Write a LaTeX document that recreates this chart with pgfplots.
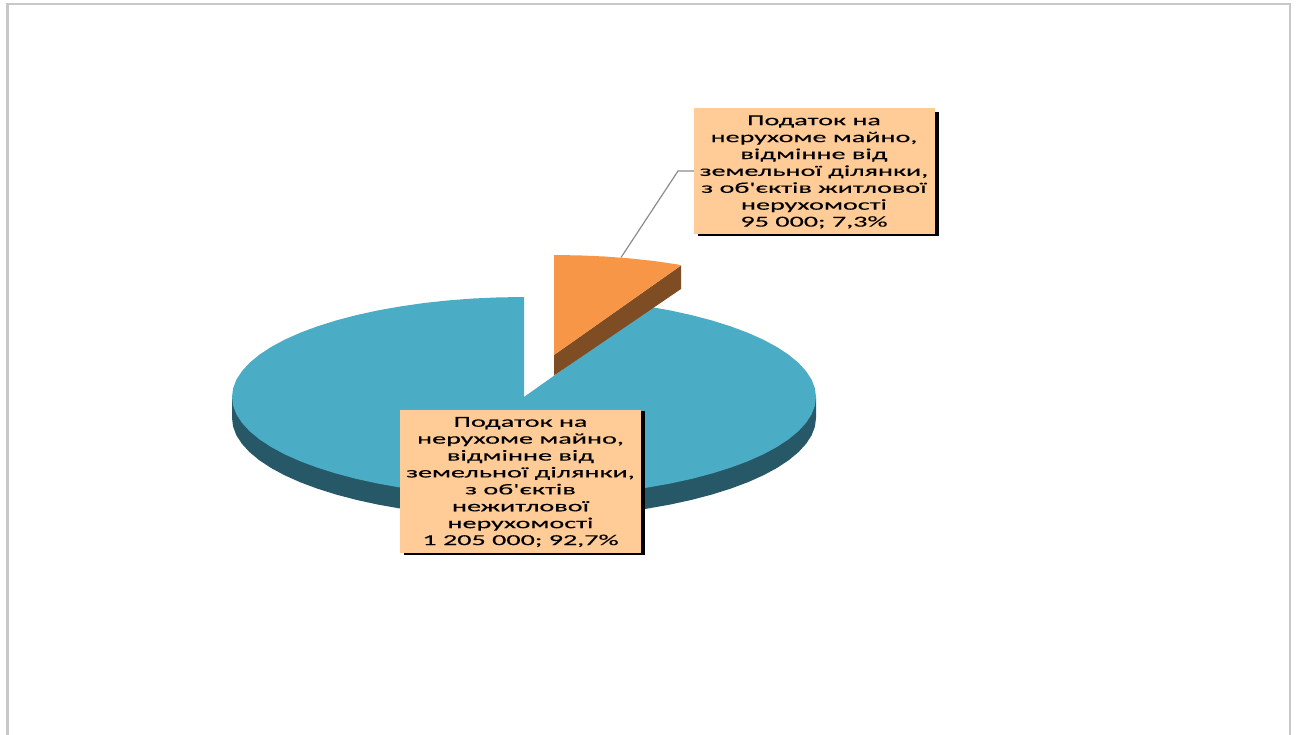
\documentclass[border=0pt]{standalone}
\usepackage{pgfplots}
\pgfplotsset{compat=1.18}
\usepackage{fontspec}
\newfontfamily\lab[FakeStretch=1.85,FakeBold=0.15]{Carlito}
\definecolor{bluetop}{HTML}{4BACC6}
\definecolor{blueside}{HTML}{265867}
\definecolor{orangetop}{HTML}{F79646}
\definecolor{orangeside}{HTML}{7F4D23}
\definecolor{labelbg}{HTML}{FFCB96}
\definecolor{frameg}{HTML}{C8C8C8}
\tikzset{lbl/.style={font=\fontsize{15.2}{16.9}\selectfont\lab, align=center, inner sep=0pt}}
\begin{document}
\begin{tikzpicture}[x=1pt,y=1pt]
\path[use as bounding box] (0,0) rectangle (1296pt,735pt);
\begin{axis}[
  at={(0pt,0pt)}, anchor=south west,
  width=1296pt, height=735pt, scale only axis,
  xmin=0, xmax=1296, ymin=0, ymax=735, y dir=reverse,
  hide axis, clip=true
]
% frame
\addplot[frameg, line width=1.7pt] coordinates {(6,4.2) (1291,4.2)};
\addplot[frameg, line width=2.6pt] coordinates {(7.3,3.4) (7.3,735)};
\addplot[frameg, line width=2.4pt] coordinates {(1290,3.4) (1290,735)};
% side of the large slice
\addplot[fill=blueside, draw=none] coordinates {
(816,397)(816,418)(814.9,426.7)(811.6,435.4)(806,443.9)(798.4,452.2)(788.6,460.3)(776.9,468)(763.2,475.4)(747.7,482.3)(730.5,488.7)(711.7,494.6)(691.5,499.9)(670,504.6)(647.4,508.6)(623.9,512)(599.6,514.6)(574.7,516.5)(549.5,517.6)(524,518)(498.5,517.6)(473.3,516.5)(448.4,514.6)(424.1,512)(400.6,508.6)(378,504.6)(356.5,499.9)(336.3,494.6)(317.5,488.7)(300.3,482.3)(284.8,475.4)(271.1,468)(259.4,460.3)(249.6,452.2)(242,443.9)(236.4,435.4)(233.1,426.7)(232,418)(232,397)
} -- cycle;
% top of the large slice: 1 205 000; 92,7%
\addplot[fill=bluetop, draw=none] coordinates {
(524,397)(651,307)(670,310.4)(691.5,315.1)(711.7,320.4)(730.5,326.3)(747.7,332.7)(763.2,339.6)(776.9,347)(788.6,354.7)(798.4,362.8)(806,371.1)(811.6,379.6)(814.9,388.3)(816,397)(814.9,405.7)(811.6,414.4)(806,422.9)(798.4,431.2)(788.6,439.3)(776.9,447)(763.2,454.4)(747.7,461.3)(730.5,467.7)(711.7,473.6)(691.5,478.9)(670,483.6)(647.4,487.6)(623.9,491)(599.6,493.6)(574.7,495.5)(549.5,496.6)(524,497)(498.5,496.6)(473.3,495.5)(448.4,493.6)(424.1,491)(400.6,487.6)(378,483.6)(356.5,478.9)(336.3,473.6)(317.5,467.7)(300.3,461.3)(284.8,454.4)(271.1,447)(259.4,439.3)(249.6,431.2)(242,422.9)(236.4,414.4)(233.1,405.7)(232,397)(233.1,388.3)(236.4,379.6)(242,371.1)(249.6,362.8)(259.4,354.7)(271.1,347)(284.8,339.6)(300.3,332.7)(317.5,326.3)(336.3,320.4)(356.5,315.1)(378,310.4)(400.6,306.4)(424.1,303)(448.4,300.4)(473.3,298.5)(498.5,297.4)(524,297)
} -- cycle;
% side of the small slice
\addplot[fill=orangeside, draw=none] coordinates {(554,355)(681,265.5)(681,289)(554,375.5)} -- cycle;
% top of the small slice: 95 000; 7,3%
\addplot[fill=orangetop, draw=none] coordinates {(554,355)(554,255)(579.5,255.4)(604.7,256.5)(629.6,258.4)(653.9,261)(677.4,264.4)(681,265.5)} -- cycle;
% leader
\addplot[color=black!45, line width=1.2pt] coordinates {(621,257.5)(678,171)(694,171)};
% label 1
\addplot[fill=black, draw=none] coordinates {(698,112)(938.5,112)(938.5,236)(698,236)} -- cycle;
\addplot[fill=labelbg, draw=none] coordinates {(694,108)(935,108)(935,234)(694,234)} -- cycle;
\node[lbl] at (axis cs:814,172) {Податок на\\нерухоме майно,\\відмінне від\\земельної ділянки,\\з об'єктів житлової\\нерухомості\\95 000; 7,3\%};
% label 2
\addplot[fill=black, draw=none] coordinates {(404,411)(645,411)(645,554.5)(404,554.5)} -- cycle;
\addplot[fill=labelbg, draw=none] coordinates {(400,410)(641,410)(641,553)(400,553)} -- cycle;
\node[lbl] at (axis cs:520.5,482) {Податок на\\нерухоме майно,\\відмінне від\\земельної ділянки,\\з об'єктів\\нежитлової\\нерухомості\\1 205 000; 92,7\%};
\end{axis}
\end{tikzpicture}
\end{document}
